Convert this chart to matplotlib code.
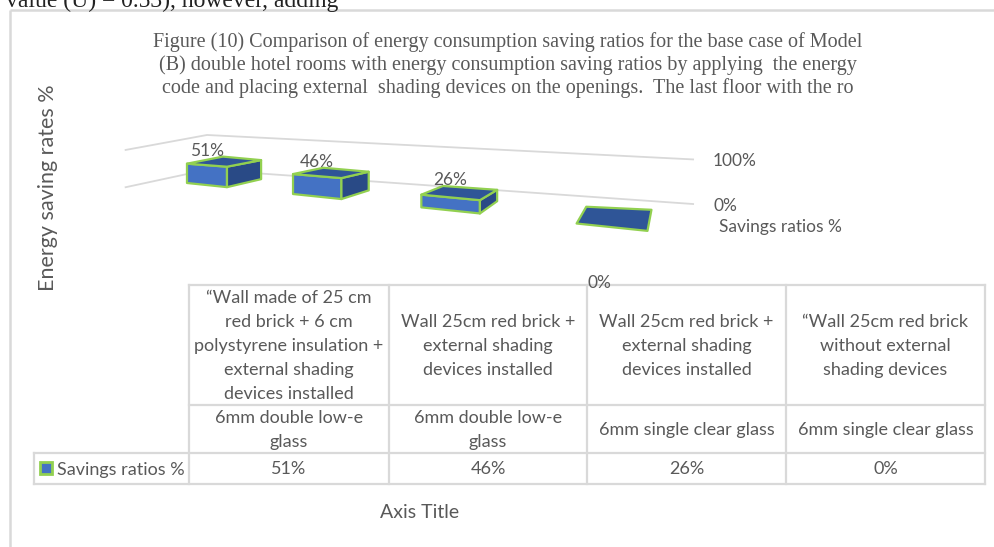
import numpy as np
import matplotlib.pyplot as plt
from matplotlib.patches import Polygon, Rectangle

# chart data
walls = [
    "\u201cWall made of 25 cm\nred brick + 6 cm\npolystyrene insulation +\nexternal shading\ndevices installed",
    "Wall 25cm red brick +\nexternal shading\ndevices installed",
    "Wall 25cm red brick +\nexternal shading\ndevices installed",
    "\u201cWall 25cm red brick\nwithout external\nshading devices",
]
glass = ["6mm double low-e\nglass", "6mm double low-e\nglass",
         "6mm single clear glass", "6mm single clear glass"]
savings = [51, 46, 26, 0]
series_name = "Savings ratios %"
value_ticks = [0, 100]

title = ("Figure (10) Comparison of energy consumption saving ratios for the base case of Model\n"
         "(B) double hotel rooms with energy consumption saving ratios by applying  the energy\n"
         "code and placing external  shading devices on the openings.  The last floor with the ro")

TXT = '#595959'
GRID = '#d9d9d9'
FRONT, TOP, SIDE, EDGE = '#4472c4', '#2f5597', '#294a86', '#92d050'
SANS = 'Lato'

W, H = 995, 547
fig = plt.figure(figsize=(W / 100, H / 100), dpi=100)
ax = fig.add_axes([0, 0, 1, 1])
ax.set_xlim(0, W)
ax.set_ylim(H, 0)
ax.axis('off')


def proj(x, z, v):
    """Perspective of the 3-D plot area: x = category position,
    z = depth (0 = bar front, 1 = bar back), v = value in %."""
    s = 1.21 ** (x - 0.5)
    fx = -318 + 524.6 * s
    fy = 183 + 0.104 * (fx - 187)
    dx = 37 - 3 * x - 1.6 * x ** 2
    dy = -8 - 0.4 * (x - 0.5) ** 3
    k = 0.39 + 0.055 * (x - 0.5) * (1 - 0.42 * z) - 0.023 * z
    return fx + z * dx, fy + z * dy - v * k


# chart frame
ax.plot([10, W], [10, 10], color=GRID, lw=1.8, solid_capstyle='butt')
ax.plot([10, 10], [10, H], color=GRID, lw=1.8, solid_capstyle='butt')

# text from the page above the chart, cut off by the crop
ax.text(6, 7, "value (U) = 0.53), however, adding", fontsize=17,
        family='Liberation Serif', color='#222222', va='baseline', ha='left')

ax.text(508, 65, title, fontsize=14.5, family='Liberation Serif', color=TXT,
        ha='center', va='center', linespacing=1.2)

# side and back wall gridlines
n = len(savings)
z_front, z_back = -0.9, 1.3
x_end = n - 0.06
for v in value_ticks:
    pts = [proj(0, z_front, v), proj(0, z_back, v), proj(x_end, z_back, v)]
    ax.plot([p[0] for p in pts], [p[1] for p in pts], color=GRID, lw=1.3, zorder=1)
    ex, ey = pts[-1]
    ax.text(ex + 20, ey + 2, f"{v}%", fontsize=12.5, family=SANS, color=TXT,
            ha='left', va='center')
ex, ey = proj(x_end, z_back, 0)
ax.text(ex + 26, ey + 23, series_name, fontsize=12.5, family=SANS, color=TXT,
        ha='left', va='center')

table_top = 285

# 3-D bars
for i, v in enumerate(savings):
    x0, x1 = i + 0.3, i + 0.7
    fl0, fr0 = proj(x0, 0, 0), proj(x1, 0, 0)
    br0 = proj(x1, 1, 0)
    flt, frt = proj(x0, 0, v), proj(x1, 0, v)
    blt, brt = proj(x0, 1, v), proj(x1, 1, v)
    faces = [([flt, frt, brt, blt], TOP)]
    if v > 0:
        faces = [([fl0, fr0, frt, flt], FRONT), ([fr0, br0, brt, frt], SIDE)] + faces
    for verts, col in faces:
        ax.add_patch(Polygon(verts, closed=True, fc=col, ec=EDGE, lw=1.6,
                             joinstyle='round', zorder=3))
    lx = (flt[0] + frt[0]) / 2
    ly = min(blt[1], brt[1]) - 6
    if v == 0:
        # Excel drops the empty bar's label down onto the data table
        lx -= 13
        ly = table_top - 2
    ax.text(lx, ly, f"{v}%", fontsize=12.5, family=SANS, color=TXT,
            ha='center', va='center', zorder=4)

# y axis title
ax.text(48, 188, "Energy saving rates %", fontsize=15.5, family=SANS, color=TXT,
        rotation=90, ha='center', va='center')

# data table
cols = [189, 389, 587, 786, 985]
rows = [table_top, 405, 453, 484]
key_left = 34
tl = dict(color=GRID, lw=1.6, solid_capstyle='projecting')
ax.plot([cols[0], cols[-1]], [rows[0], rows[0]], **tl)
ax.plot([cols[0], cols[-1]], [rows[1], rows[1]], **tl)
ax.plot([key_left, cols[-1]], [rows[2], rows[2]], **tl)
ax.plot([key_left, cols[-1]], [rows[3], rows[3]], **tl)
ax.plot([key_left, key_left], [rows[2], rows[3]], **tl)
for c in cols:
    ax.plot([c, c], [rows[0], rows[3]], **tl)

for j in range(n):
    cx = (cols[j] + cols[j + 1]) / 2
    for r, label in enumerate([walls[j], glass[j], f"{savings[j]}%"]):
        cy = (rows[r] + rows[r + 1]) / 2
        ax.text(cx, cy + 1, label, fontsize=13, family=SANS, color=TXT,
                ha='center', va='center', linespacing=1.6, multialignment='center')

ky = (rows[2] + rows[3]) / 2
ax.add_patch(Rectangle((40, ky - 6.5), 12, 12, fc=FRONT, ec=EDGE, lw=2, zorder=3))
ax.text(57, ky + 1, series_name, fontsize=13, family=SANS, color=TXT,
        ha='left', va='center')

ax.text(420, 513, "Axis Title", fontsize=14, family=SANS, color=TXT,
        ha='center', va='center')

fig.savefig('out.png', dpi=100, facecolor='white')
